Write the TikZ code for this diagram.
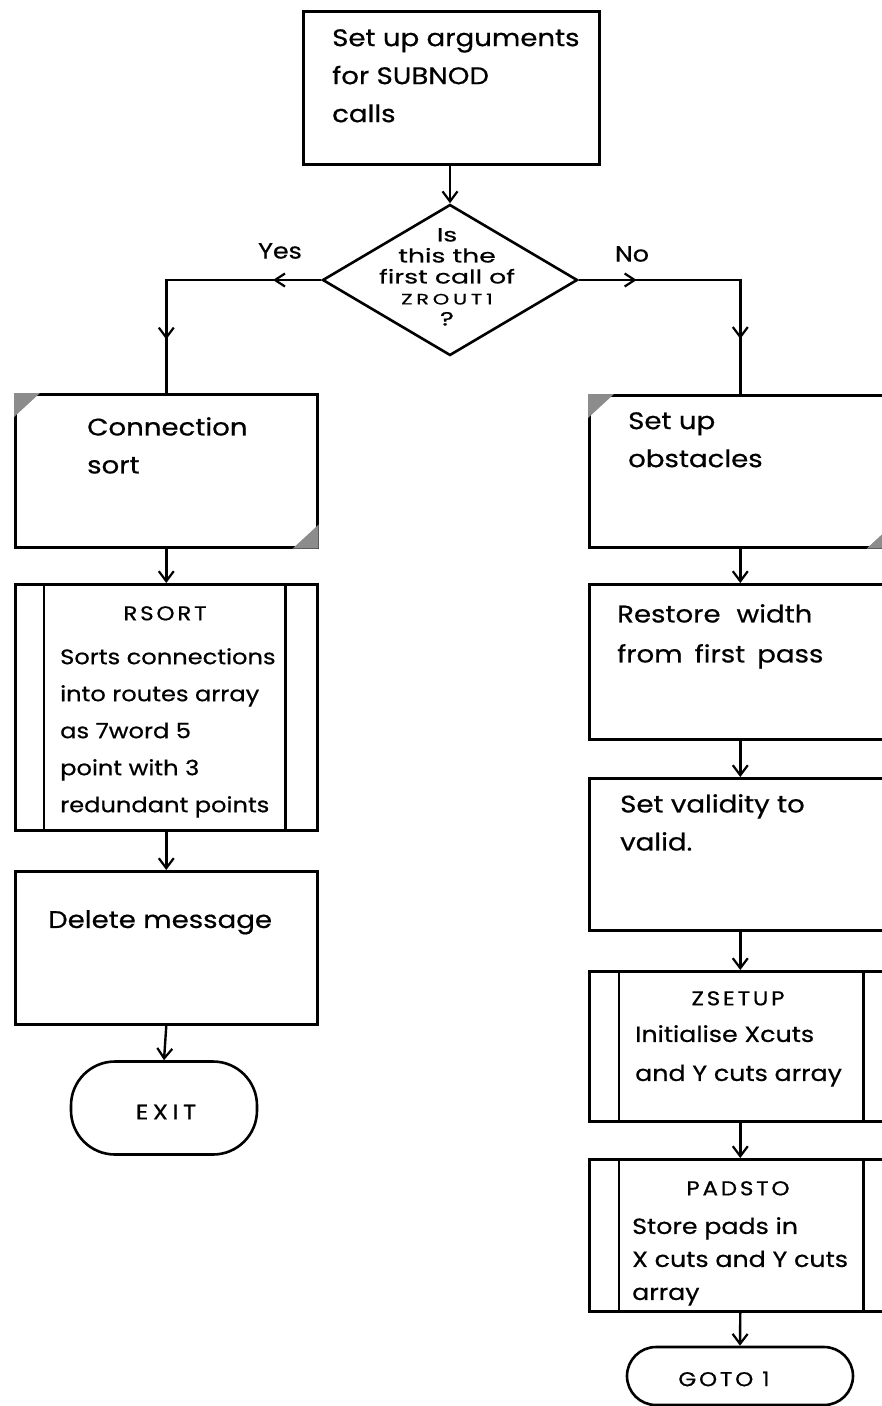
\documentclass[tikz,border=0pt]{standalone}
\usepackage{fontspec}
\setmainfont{Poppins}[FakeStretch=1.15, FakeBold=0.6]
\usetikzlibrary{shapes.geometric,arrows.meta,decorations.markings}

\tikzset{
  box/.style={draw, line width=2.6pt, rectangle, inner sep=0pt, anchor=north west,
              minimum width=302pt},
  decision/.style={draw, line width=2.6pt, diamond, inner sep=0pt,
              minimum width=255pt, minimum height=151pt},
  terminal/.style={draw, line width=2.6pt, rectangle, inner sep=0pt},
  bar/.style={line width=2.4pt},
  corner/.style={fill=black!45},
  txt/.style={anchor=north west, align=left, inner sep=0pt,
              font=\fontsize{24}{38}\selectfont},
  subtxt/.style={anchor=north west, align=left, inner sep=0pt,
              font=\fontsize{21}{37}\selectfont},
  title/.style={anchor=north, inner sep=0pt,
              font=\fontsize{20}{24}\selectfont\addfontfeature{LetterSpace=14}},
  capslabel/.style={inner sep=0pt,
              font=\fontsize{20}{24}\selectfont\addfontfeature{LetterSpace=14}},
  tip/.tip={Straight Barb[length=10pt,width=15pt,line width=2.2pt]},
  flow/.style={line width=2.4pt, -tip},
  branch/.style={line width=2.4pt, postaction={decorate},
    decoration={markings,
      mark=at position #1 with {\arrow{Straight Barb[length=10pt,width=13pt,line width=2.2pt]}},
      mark=at position 0.80 with {\arrow{Straight Barb[length=10pt,width=15pt,line width=2.2pt]}}}}
}

\begin{document}
\begin{tikzpicture}[x=1pt,y=-1pt]
\useasboundingbox (0,0) rectangle (882,1406);
\fill[white] (0,0) rectangle (882,1406);
\clip (0,0) rectangle (882,1406);

% entry block and decision
\node[box, minimum width=296pt, minimum height=153pt] (setup) at (302,10) {};
\node[txt] (setuptxt) at (332,29) {Set up arguments\\for SUBNOD\\calls};

\node[decision] (first) at (450,280) {};
\node[anchor=north, align=center, inner sep=0pt,
      font=\fontsize{19}{21}\selectfont\addfontfeature{FakeStretch=1.4}]
  (firsttxt) at (447,228)
  {Is\\this the\\first call of\\{\fontsize{15}{21}\selectfont\addfontfeature{LetterSpace=25}ZROUT1}\\?};

\node[inner sep=0pt, font=\fontsize{22}{24}\selectfont] (yes) at (280,251) {Yes};
\node[inner sep=0pt, font=\fontsize{22}{24}\selectfont] (no) at (632,254) {No};

% left branch
\node[box, minimum height=153pt] (csort) at (14,393) {};
\fill[corner] (csort.north west) -- ++(26,0) -- ++(-26,24) -- cycle;
\fill[corner] (csort.south east) -- ++(-26,0) -- ++(26,-24) -- cycle;
\node[txt] (csorttxt) at (87,417) {Connection\\sort};

\node[box, minimum height=246pt] (rsort) at (14,583) {};
\draw[bar] ([xshift=30pt]rsort.north west) -- ([xshift=30pt]rsort.south west);
\draw[bar] ([xshift=-33pt]rsort.north east) -- ([xshift=-33pt]rsort.south east);
\node[title] (rsorttitle) at (165,606) {RSORT};
\node[subtxt] (rsorttxt) at (60,648)
  {Sorts connections\\into routes array\\as 7word 5\\point with 3\\redundant points};

\node[box, minimum height=153pt] (delmsg) at (14,870) {};
\node[txt] (delmsgtxt) at (48,910) {Delete message};

\node[terminal, minimum width=186pt, minimum height=93pt, rounded corners=44pt]
  (exit) at (164,1108) {};
\node[capslabel, font=\fontsize{21}{24}\selectfont\addfontfeature{LetterSpace=22}]
  (exittxt) at (166,1112) {EXIT};

% right branch
\node[box, minimum height=152pt] (obst) at (588,394) {};
\fill[corner] (obst.north west) -- ++(26,0) -- ++(-26,24) -- cycle;
\fill[corner] (obst.south east) -- ++(-26,0) -- ++(26,-24) -- cycle;
\node[txt] (obsttxt) at (628,412) {Set up\\obstacles};

\node[box, minimum height=155pt] (restore) at (588,583) {};
\node[txt, font=\fontsize{24}{40}\selectfont]
  (restoretxt) at (617,604) {Restore\hspace{16pt}width\\from\hspace{12pt}first\hspace{12pt}pass};

\node[box, minimum height=152pt] (valid) at (588,777) {};
\node[txt] (validtxt) at (620,794) {Set validity to\\valid.};

\node[box, minimum height=150pt] (zsetup) at (588,970) {};
\draw[bar] ([xshift=31pt]zsetup.north west) -- ([xshift=31pt]zsetup.south west);
\draw[bar] ([xshift=-29pt]zsetup.north east) -- ([xshift=-29pt]zsetup.south east);
\node[title] (zsetuptitle) at (738,991) {ZSETUP};
\node[subtxt, font=\fontsize{22}{39}\selectfont] (zsetuptxt) at (635,1025)
  {Initialise Xcuts\\and Y cuts array};

\node[box, minimum height=152pt] (padsto) at (588,1158) {};
\draw[bar] ([xshift=31pt]padsto.north west) -- ([xshift=31pt]padsto.south west);
\draw[bar] ([xshift=-29pt]padsto.north east) -- ([xshift=-29pt]padsto.south east);
\node[title] (padstotitle) at (738,1181) {PADSTO};
\node[subtxt, font=\fontsize{22}{33}\selectfont] (padstotxt) at (632,1217)
  {Store pads in\\X cuts and Y cuts\\array};

\node[terminal, minimum width=226pt, minimum height=58pt, rounded corners=29pt]
  (goto) at (740,1376) {};
\node[capslabel] (gototxt) at (724,1379) {GOTO 1};

% connectors
\draw[flow] (setup.south -| first.north) -- (first.north);
\draw[branch=0.18] (first.west) -| (csort.north);
\draw[branch=0.21] (first.east) -| (obst.north);
\draw[flow] (csort.south) -- (rsort.north);
\draw[flow] (rsort.south) -- (delmsg.north);
\draw[flow] (delmsg.south) -- (exit.north);
\draw[flow] (obst.south) -- (restore.north);
\draw[flow] (restore.south) -- (valid.north);
\draw[flow] (valid.south) -- (zsetup.north);
\draw[flow] (zsetup.south) -- (padsto.north);
\draw[flow] (padsto.south) -- (goto.north);
\end{tikzpicture}
\end{document}
